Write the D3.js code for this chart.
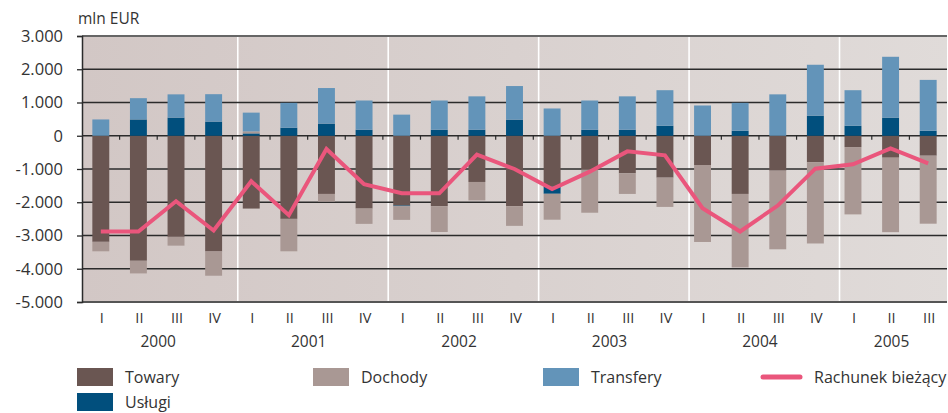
<!DOCTYPE html>
<html>
<head>
<meta charset="utf-8">
<script src="https://cdn.jsdelivr.net/npm/d3@7"></script>
<style>
  html, body { margin: 0; padding: 0; background: #fff; }
  svg { display: block; font-family: "Open Sans", "Noto Sans", sans-serif; }
</style>
</head>
<body>
<svg id="chart" width="948" height="413"></svg>
<script>
const quarters = ["I","II","III","IV","I","II","III","IV","I","II","III","IV","I","II","III","IV","I","II","III","IV","I","II","III"];
const years = ["2000","2001","2002","2003","2004","2005"];
const yearOf = [0,0,0,0,1,1,1,1,2,2,2,2,3,3,3,3,4,4,4,4,5,5,5];
const towary    = [-3190,-3760,-3040,-3480,-2190,-2500,-1750,-2190,-2100,-2120,-1390,-2120,-1530,-1020,-1130,-1260,-880,-1750,-1050,-800,-340,-660,-600];
const uslugi    = [0,490,545,425,70,240,365,180,-20,180,180,485,-215,180,180,300,0,150,0,605,300,545,150];
const dochody   = [-285,-380,-265,-730,60,-975,-230,-460,-410,-775,-555,-590,-780,-1295,-620,-880,-2315,-2210,-2365,-2440,-2025,-2240,-2045];
const transfery = [490,640,700,825,565,750,1070,880,635,880,1005,1010,820,880,1005,1070,910,840,1245,1530,1070,1830,1530];
const rachunek  = [-2880,-2880,-1970,-2850,-1370,-2390,-400,-1460,-1730,-1730,-570,-1000,-1600,-1080,-470,-590,-2180,-2880,-2100,-990,-860,-380,-830];
const yTicks = [3000,2000,1000,0,-1000,-2000,-3000,-4000,-5000];
const yTickLabels = ["3.000","2.000","1.000","0","-1.000","-2.000","-3.000","-4.000","-5.000"];
const seriesKeys = ["Towary","Usługi","Dochody","Transfery"];
const seriesColors = {"Towary":"#6a5652","Usługi":"#014f7d","Dochody":"#a99894","Transfery":"#6394b9"};
const lineName = "Rachunek bieżący";
const lineColor = "#ea567c";

const svg = d3.select("#chart");
const L = 82, R = 947, T = 36, B = 302;

const idx = d3.range(quarters.length);
const x = d3.scaleBand().domain(idx).range([L, R]).paddingInner(0.55).paddingOuter(0.275);
const step = x.step();
const y = d3.scaleLinear().domain([-5000, 3000]).range([B, T]);

// background gradient
const defs = svg.append("defs");
const grad = defs.append("linearGradient").attr("id","bg").attr("x1","0").attr("x2","1").attr("y1","0").attr("y2","0");
grad.append("stop").attr("offset","0").attr("stop-color","#d2c7c5");
grad.append("stop").attr("offset","1").attr("stop-color","#e0dbd9");
svg.append("rect").attr("x", L).attr("y", T).attr("width", R - L).attr("height", B - T).attr("fill", "url(#bg)");

// year separators
const yearStarts = [4, 8, 12, 16, 20];
svg.append("g").selectAll("line").data(yearStarts).join("line")
  .attr("x1", d => x(d) - 5)
  .attr("x2", d => x(d) - 5)
  .attr("y1", T).attr("y2", B)
  .attr("stroke", "#ffffff").attr("stroke-width", 1.6);

// gridlines
svg.append("g").selectAll("line").data(yTicks.filter(v => v !== 3000 && v !== -5000)).join("line")
  .attr("x1", L).attr("x2", R)
  .attr("y1", d => y(d)).attr("y2", d => y(d))
  .attr("stroke", "#2b2b2b").attr("stroke-width", 1.3);

// stacked bars
const table = idx.map(i => ({i, "Towary": towary[i], "Usługi": uslugi[i], "Dochody": dochody[i], "Transfery": transfery[i]}));
const stacked = d3.stack().keys(seriesKeys).offset(d3.stackOffsetDiverging)(table);
svg.append("g").selectAll("g").data(stacked).join("g")
  .attr("fill", d => seriesColors[d.key])
  .selectAll("rect").data(d => d).join("rect")
  .attr("x", d => x(d.data.i))
  .attr("width", x.bandwidth())
  .attr("y", d => y(Math.max(d[0], d[1])))
  .attr("height", d => Math.abs(y(d[0]) - y(d[1])));

// zero axis ticks
const zeroTicks = d3.range(1, quarters.length);
svg.append("g").selectAll("line").data(zeroTicks).join("line")
  .attr("x1", d => x(d) - step * 0.275).attr("x2", d => x(d) - step * 0.275)
  .attr("y1", y(0)).attr("y2", y(0) + 4)
  .attr("stroke", "#2b2b2b").attr("stroke-width", 1.2);

// line series
const line = d3.line().x((d, i) => x(i) + x.bandwidth() / 2).y(d => y(d));
svg.append("path").datum(rachunek)
  .attr("d", line).attr("fill", "none")
  .attr("stroke", lineColor).attr("stroke-width", 4).attr("stroke-linejoin", "miter");

// frame top / bottom
svg.append("line").attr("x1", L).attr("x2", R).attr("y1", T).attr("y2", T).attr("stroke", "#666").attr("stroke-width", 2);
svg.append("line").attr("x1", L).attr("x2", R).attr("y1", B).attr("y2", B).attr("stroke", "#555").attr("stroke-width", 2);

// y axis
const yAxis = d3.axisLeft(y).tickValues(yTicks).tickFormat((d, i) => yTickLabels[i]).tickSize(5).tickPadding(14);
const ya = svg.append("g").attr("transform", `translate(${L},0)`).call(yAxis);
ya.select(".domain").attr("stroke", "#2b2b2b").attr("stroke-width", 1.5);
ya.selectAll(".tick line").attr("stroke", "#2b2b2b").attr("stroke-width", 1.3);
ya.selectAll(".tick text").attr("fill", "#333").style("font-size", "16.5px").style("font-family", "'Open Sans', sans-serif");

svg.append("text").attr("x", 78).attr("y", 24).attr("fill", "#333").style("font-size", "15.5px").text("mln EUR");

// x labels
svg.append("g").selectAll("text").data(idx).join("text")
  .attr("x", d => x(d) + x.bandwidth() / 2 + 1).attr("y", 323)
  .attr("text-anchor", "middle").attr("fill", "#333").style("font-size", "14.5px")
  .text(d => quarters[d]);
const yearCenters = years.map((yr, k) => {
  const qs = idx.filter(i => yearOf[i] === k);
  return (x(qs[0]) + x(qs[qs.length - 1]) + x.bandwidth()) / 2;
});
svg.append("g").selectAll("text").data(years).join("text")
  .attr("x", (d, k) => yearCenters[k] + 1).attr("y", 347)
  .attr("text-anchor", "middle").attr("fill", "#333").style("font-size", "15.5px")
  .text(d => d);

// legend
const legendItems = [
  {name: "Towary", type: "rect", color: seriesColors["Towary"], x: 77, y: 368},
  {name: "Dochody", type: "rect", color: seriesColors["Dochody"], x: 313, y: 368},
  {name: "Transfery", type: "rect", color: seriesColors["Transfery"], x: 543, y: 368},
  {name: lineName, type: "line", color: lineColor, x: 761, y: 368},
  {name: "Usługi", type: "rect", color: seriesColors["Usługi"], x: 77, y: 393}
];
const lg = svg.append("g").selectAll("g").data(legendItems).join("g")
  .attr("transform", d => `translate(${d.x},${d.y})`);
lg.filter(d => d.type === "rect").append("rect").attr("width", 36).attr("height", 18).attr("fill", d => d.color);
lg.filter(d => d.type === "line").append("line").attr("x1", 2).attr("x2", 39).attr("y1", 9).attr("y2", 9)
  .attr("stroke", d => d.color).attr("stroke-width", 5).attr("stroke-linecap", "round");
lg.append("text").attr("x", d => d.type === "line" ? 53 : 48).attr("y", 15)
  .attr("fill", "#333").style("font-size", "16px").text(d => d.name);
</script>
</body>
</html>
